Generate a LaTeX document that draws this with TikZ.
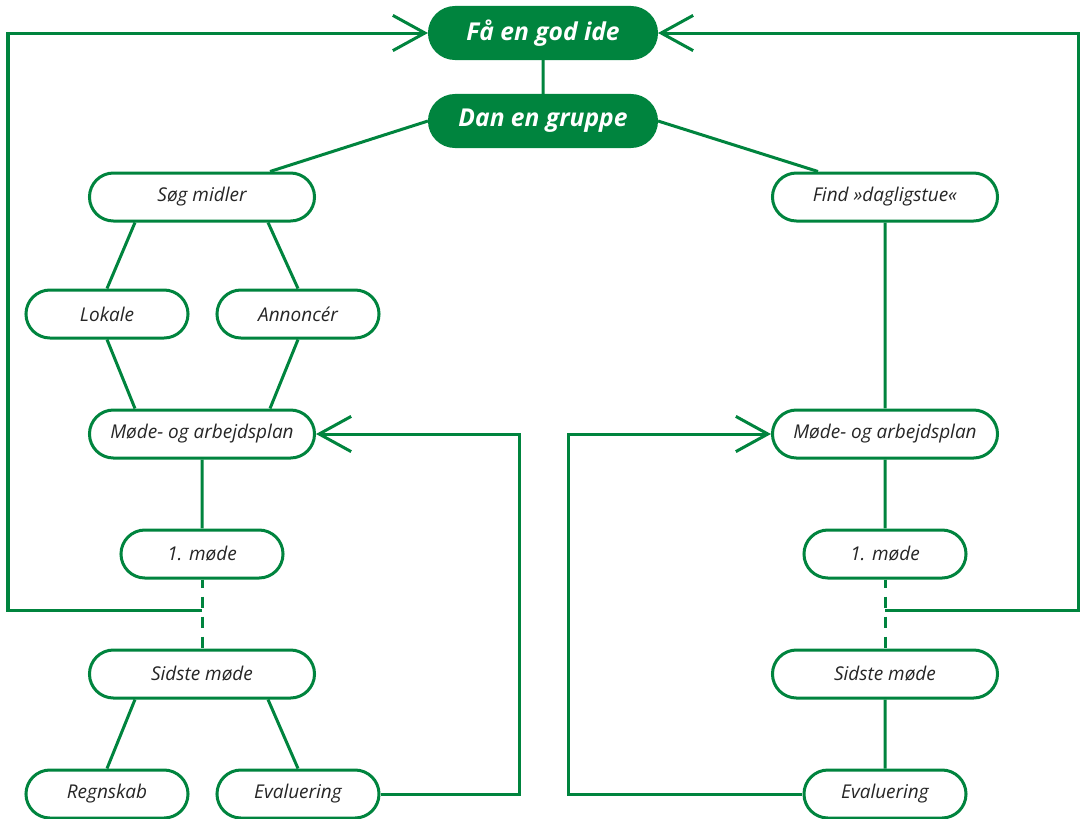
\documentclass[tikz,border=0pt]{standalone}
\usepackage{fontspec}
\setmainfont{Open Sans}
\usetikzlibrary{shapes.misc,arrows.meta}
\definecolor{groen}{RGB}{0,132,62}
\begin{document}
\begin{tikzpicture}[x=0.025cm, y=-0.025cm,
        box/.style={rounded rectangle, draw=groen, line width=0.075cm, fill=white,
            minimum height=1.2cm, inner sep=0pt, text=black!85,
            font=\fontsize{13.5}{15}\selectfont\itshape},
        bred/.style={box, minimum width=5.625cm},
        smal/.style={box, minimum width=4.05cm},
        top/.style={box, fill=groen, minimum width=5.675cm, minimum height=1.275cm,
            text=white, font=\fontsize{17.5}{19}\selectfont\bfseries\itshape},
        forb/.style={draw=groen, line width=0.075cm},
        back/.style={forb, -{Straight Barb[length=0.8cm, width=0.88cm, line width=0.075cm]}}]
    \useasboundingbox (0,0) rectangle (1080,818);

    \node [top] (ide) at (543,33) {Få en god ide};
    \node [top] (gruppe) at (543,121) {Dan en gruppe};

    \node [bred] (midler) at (202,197) {Søg midler};
    \node [bred] (stue) at (885,197) {Find »dagligstue«};
    \node [smal] (lokale) at (107,314) {Lokale};
    \node [smal] (annonce) at (298,314) {Annoncér};
    \node [bred] (planL) at (202,434) {Møde- og arbejdsplan};
    \node [bred] (planR) at (885,434) {Møde- og arbejdsplan};
    \node [smal] (modeL) at (202,554) {1. møde};
    \node [smal] (modeR) at (885,554) {1. møde};
    \node [bred] (sidsteL) at (202,674) {Sidste møde};
    \node [bred] (sidsteR) at (885,674) {Sidste møde};
    \node [smal] (regnskab) at (107,794) {Regnskab};
    \node [smal] (evalL) at (298,794) {Evaluering};
    \node [smal] (evalR) at (885,794) {Evaluering};

    \coordinate (jL) at (202,610);
    \coordinate (jR) at (885,610);

    % venstre og hoejre gren
    \draw [forb] (ide) -- (gruppe);
    \draw [forb] (gruppe.west) -- ([xshift=1.7cm]midler.north);
    \draw [forb] (gruppe.east) -- ([xshift=-1.675cm]stue.north);
    \draw [forb] ([xshift=-1.675cm]midler.south) -- (lokale.north);
    \draw [forb] ([xshift=1.65cm]midler.south) -- (annonce.north);
    \draw [forb] (lokale.south) -- ([xshift=-1.675cm]planL.north);
    \draw [forb] (annonce.south) -- ([xshift=1.7cm]planL.north);
    \draw [forb] (stue) -- (planR);
    \draw [forb] (planL) -- (modeL);
    \draw [forb] (planR) -- (modeR);
    \draw [forb, dash pattern=on 0.28cm off 0.22cm, dash phase=0.07cm] (modeL.south) -- (sidsteL.north);
    \draw [forb, dash pattern=on 0.28cm off 0.22cm, dash phase=0.07cm] (modeR.south) -- (sidsteR.north);
    \draw [forb] ([xshift=-1.675cm]sidsteL.south) -- (regnskab.north);
    \draw [forb] ([xshift=1.65cm]sidsteL.south) -- (evalL.north);
    \draw [forb] (sidsteR) -- (evalR);

    % tilbage til starten
    \draw [back] (jL) -- ++(-194,0) |- (ide.west);
    \draw [back] (jR) -- ++(193,0) |- (ide.east);
    \draw [back] (evalL.east) -- ++(139,0) |- (planL.east);
    \draw [back] (evalR.west) -- ++(-234,0) |- (planR.west);
\end{tikzpicture}
\end{document}
